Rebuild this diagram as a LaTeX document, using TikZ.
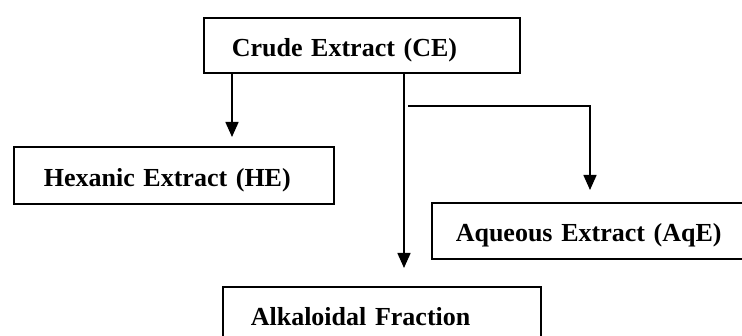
\documentclass[tikz,border=0pt]{standalone}
\usepackage{fontspec}
\setmainfont{Liberation Serif}[WordSpace=0.85]
\usetikzlibrary{arrows.meta}
\begin{document}
\begin{tikzpicture}[x=1pt,y=-1pt,
  box/.style={draw, line width=1.6pt, anchor=north west, align=left,
    inner xsep=0pt, inner ysep=0pt, font=\fontsize{26}{32}\selectfont\bfseries,
    text depth=0pt, text height=22pt},
  conn/.style={line width=1.6pt},
  arr/.style={conn, -{Triangle[width=13pt,length=15pt]}}]
\useasboundingbox (0,0) rectangle (742,336);
\node[box, minimum width=316pt, minimum height=55pt, text width=316pt] (CE) at (203,17) {\hspace*{28pt}Crude Extract (CE)};
\node[box, minimum width=320pt, minimum height=57pt, text width=320pt] (HE) at (13,146) {\hspace*{30pt}Hexanic Extract (HE)};
\node[box, minimum width=329pt, minimum height=56pt, text width=329pt] (AqE) at (431,202) {\hspace*{24pt}Aqueous Extract (AqE)};
\node[box, minimum width=318pt, minimum height=56pt, text width=318pt] (AF) at (222,286) {\hspace*{28pt}Alkaloidal Fraction};
\coordinate (bstart) at (408,106);
\coordinate (bcorner) at (590,106);
\draw[arr, shorten >=9pt] (CE.south -| 232,0) -- (HE.north -| 232,0);
\draw[arr, shorten >=18pt] (CE.south -| 404,0) -- (AF.north -| 404,0);
\draw[arr, shorten >=12pt] (bstart) -- (bcorner) -- (AqE.north -| bcorner);
\end{tikzpicture}
\end{document}
